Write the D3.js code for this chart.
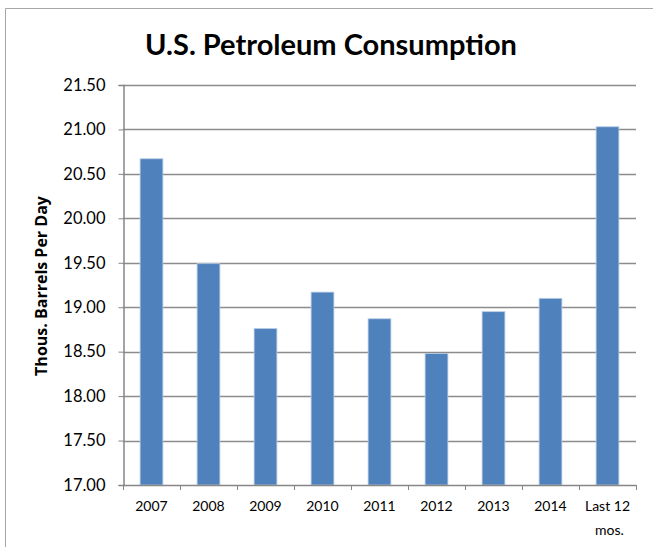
<!DOCTYPE html>
<html>
<head>
<meta charset="utf-8">
<script src="https://cdn.jsdelivr.net/npm/d3@7"></script>
<style>
  body { margin: 0; background: #fff; }
  text { font-family: Lato, "Open Sans", sans-serif; fill: #000; }
</style>
</head>
<body>
<script>
// chart values
const years = ["2007", "2008", "2009", "2010", "2011", "2012", "2013", "2014", "Last 12 mos."];
const consumption = [20.67, 19.49, 18.76, 19.17, 18.87, 18.48, 18.95, 19.10, 21.03];
const yTicks = [17.0, 17.5, 18.0, 18.5, 19.0, 19.5, 20.0, 20.5, 21.0, 21.5];

const w = 653, h = 547;
const m = {top: 85, right: 17, bottom: 62, left: 123};

const svg = d3.select("body").append("svg")
  .attr("width", w)
  .attr("height", h);

// chart frame (top + left edge visible in the crop)
svg.append("path")
  .attr("d", `M5.5,${h} V8.5 H${w}`)
  .attr("fill", "none")
  .attr("stroke", "#a6a6a6")
  .attr("stroke-width", 1);

const x = d3.scaleBand()
  .domain(years)
  .range([m.left, w - m.right])
  .paddingInner(0.6)
  .paddingOuter(0.3);

const y = d3.scaleLinear()
  .domain([17, 21.5])
  .range([h - m.bottom, m.top]);

// gridlines
svg.append("g")
  .selectAll("line")
  .data(yTicks.slice(1))
  .enter()
  .append("line")
  .attr("x1", m.left)
  .attr("x2", w - m.right)
  .attr("y1", d => Math.round(y(d)) + 0.5)
  .attr("y2", d => Math.round(y(d)) + 0.5)
  .attr("stroke", "#8c8c8c")
  .attr("stroke-width", 1.5);

// bars
svg.append("g")
  .selectAll("rect")
  .data(years.map((d, i) => ({year: d, v: consumption[i]})))
  .enter()
  .append("rect")
  .attr("x", d => x(d.year))
  .attr("y", d => y(d.v))
  .attr("width", x.bandwidth())
  .attr("height", d => y(17) - y(d.v))
  .attr("fill", "#4f81bd")
  .attr("stroke", "#b9cde5")
  .attr("stroke-width", 0.8);

// y axis
const yAxis = d3.axisLeft(y)
  .tickValues(yTicks)
  .tickFormat(d3.format(".2f"))
  .tickSize(5)
  .tickPadding(13);

const gy = svg.append("g")
  .attr("transform", `translate(${m.left + 0.5},0)`)
  .call(yAxis);
gy.select(".domain").attr("stroke", "#868686").attr("stroke-width", 1.5);
gy.selectAll(".tick line").attr("stroke", "#868686");
gy.selectAll(".tick text").style("font-size", "16.5px").attr("fill", "#000");

// x axis: ticks at category boundaries like a spreadsheet chart
const step = x.step();
const bounds = d3.range(years.length + 1).map(i => m.left + i * step);
const gx = svg.append("g");
gx.append("line")
  .attr("x1", m.left)
  .attr("x2", w - m.right)
  .attr("y1", y(17) + 0.5)
  .attr("y2", y(17) + 0.5)
  .attr("stroke", "#868686")
  .attr("stroke-width", 1.5);
gx.selectAll(".tk")
  .data(bounds)
  .enter()
  .append("line")
  .attr("class", "tk")
  .attr("x1", d => Math.round(d) + 0.5)
  .attr("x2", d => Math.round(d) + 0.5)
  .attr("y1", y(17))
  .attr("y2", y(17) + 5)
  .attr("stroke", "#868686");

gx.selectAll(".lbl")
  .data(years)
  .enter()
  .append("text")
  .attr("class", "lbl")
  .attr("text-anchor", "middle")
  .attr("x", d => x(d) + x.bandwidth() / 2)
  .attr("y", y(17) + 26)
  .style("font-size", "14px")
  .each(function (d) {
    const t = d3.select(this);
    if (d.startsWith("Last")) {
      t.append("tspan").attr("x", x(d) + x.bandwidth() / 2).text("Last 12");
      t.append("tspan").attr("x", x(d) + x.bandwidth() / 2 + 2).attr("dy", 24).text("mos.");
    } else {
      t.text(d);
    }
  });

// titles
svg.append("text")
  .attr("x", 331)
  .attr("y", 55)
  .attr("text-anchor", "middle")
  .style("font-size", "29px")
  .style("font-weight", "bold")
  .text("U.S. Petroleum Consumption");

svg.append("text")
  .attr("transform", "translate(47, 286) rotate(-90)")
  .attr("text-anchor", "middle")
  .style("font-family", "'Open Sans', sans-serif")
  .style("font-size", "16px")
  .style("font-weight", "bold")
  .text("Thous. Barrels Per Day");
</script>
</body>
</html>
